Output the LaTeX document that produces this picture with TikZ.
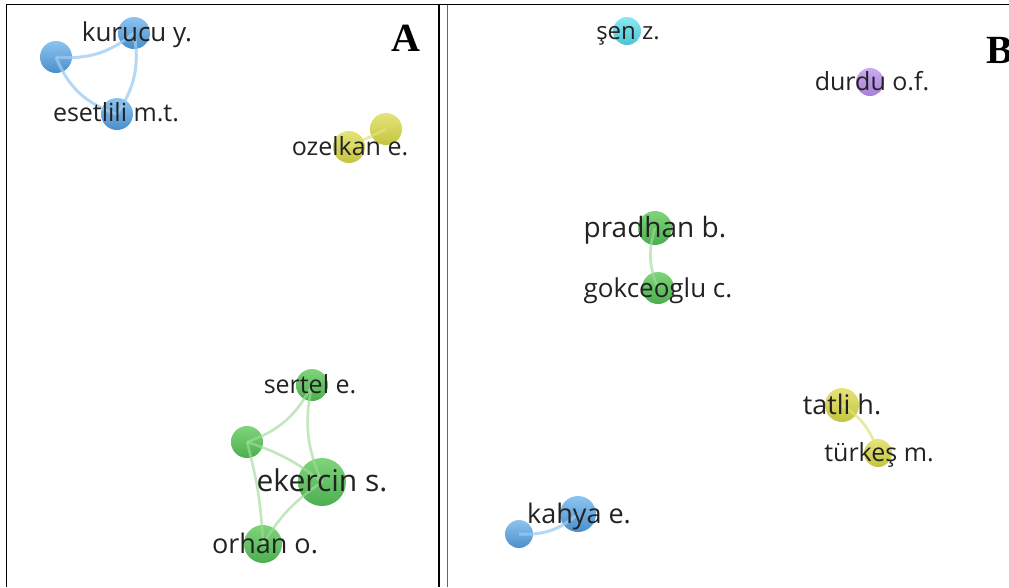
\documentclass[tikz,border=0pt]{standalone}
\usepackage{fontspec}
\setmainfont{Open Sans}
\newfontfamily\serifbold{Liberation Serif}
\begin{document}
\begin{tikzpicture}[x=1pt,y=-1pt,
  dot/.style={circle,inner sep=0,minimum size=#1,draw=none},
  blued/.style={dot=#1,top color=blued1,bottom color=blued2},
  greend/.style={dot=#1,top color=greend1,bottom color=greend2},
  yelld/.style={dot=#1,top color=yelld1,bottom color=yelld2},
  cyand/.style={dot=#1,top color=cyand1,bottom color=cyand2},
  purpd/.style={dot=#1,top color=purpd1,bottom color=purpd2},
  lab/.style={anchor=base,inner sep=0,text=labc,font=\fontsize{#1}{#1}\selectfont},
  bedge/.style={draw=bluee,line width=3pt,opacity=0.75},
  gedge/.style={draw=greene,line width=2.6pt,opacity=0.65},
  yedge/.style={draw=yelle,line width=2.6pt,opacity=0.75},
  frame/.style={draw=black,line width=1.6pt},
  panel/.style={font=\serifbold\bfseries\fontsize{40}{40}\selectfont,inner sep=0,anchor=base}]
\definecolor{blued1}{HTML}{8CC4F0}
\definecolor{blued2}{HTML}{4A8FCB}
\definecolor{greend1}{HTML}{7FD47A}
\definecolor{greend2}{HTML}{4CAF50}
\definecolor{yelld1}{HTML}{E4E47A}
\definecolor{yelld2}{HTML}{C4C440}
\definecolor{cyand1}{HTML}{8AE8F4}
\definecolor{cyand2}{HTML}{4CC4D4}
\definecolor{purpd1}{HTML}{CCAAF0}
\definecolor{purpd2}{HTML}{A880D8}
\definecolor{bluee}{HTML}{9CCBF2}
\definecolor{greene}{HTML}{9EDC98}
\definecolor{yelle}{HTML}{E2E27A}
\definecolor{labc}{HTML}{222222}
\useasboundingbox (0,0) rectangle (1009,587);
% frame
\coordinate (tl) at (6.5,4.5);
\coordinate (tr) at (1009,4.5);
\coordinate (bl) at (6.5,587);
\coordinate (sa) at (439,4.5);
\coordinate (sab) at (439,587);
\coordinate (sb) at (447.5,4.5);
\coordinate (sbb) at (447.5,587);
\draw[frame] (bl) -- (tl) -- (tr);
\draw[frame] (sa) -- (sab);
\draw[draw=black!60,line width=1.6pt] (sb) -- (sbb);
\node[panel] (pa) at (406,51) {A};
\node[panel] (pb) at (1000,63) {B};
% panel A nodes
\node[blued=32] (a1) at (56,57) {};
\node[blued=32] (kur) at (134,33) {};
\node[blued=32] (ese) at (117,114) {};
\node[yelld=32] (oz) at (349,147) {};
\node[yelld=32] (oz2) at (386,129) {};
\node[greend=32] (ser) at (312,385) {};
\node[greend=32] (g1) at (247,442) {};
\node[greend=48] (eke) at (322,482) {};
\node[greend=38] (orh) at (263,544) {};
% panel B nodes
\node[cyand=28] (sen) at (627,31) {};
\node[purpd=28] (dur) at (870,82) {};
\node[greend=34] (pra) at (655,228) {};
\node[greend=32] (gok) at (658,288) {};
\node[yelld=34] (tat) at (842,405) {};
\node[yelld=28] (tur) at (878,453) {};
\node[blued=36] (kah) at (578,514) {};
\node[blued=28] (k2) at (519,534) {};
% edges
\draw[bedge] (a1.center) to[bend right=22] (kur.center);
\draw[bedge] (kur.center) to[bend left=22] (ese.center);
\draw[bedge] (a1.center) to[bend right=25] (ese.center);
\draw[yedge] (oz.center) -- (oz2.center);
\draw[gedge] (g1.center) to[bend right=22] (ser.center);
\draw[gedge] (ser.center) to[bend right=18] (eke.center);
\draw[gedge] (g1.center) to[bend left=10] (eke.center);
\draw[gedge] (g1.center) to[bend left=6] (orh.center);
\draw[gedge] (orh.center) to[bend left=12] (eke.center);
\draw[gedge] (pra.center) to[bend right=20] (gok.center);
\draw[yedge] (tat.center) to[bend left=20] (tur.center);
\draw[bedge] (k2.center) to[bend right=22] (kah.center);
% labels
\node[lab=26] (lkur) at (137,41) {kurucu y.};
\node[lab=25] (lese) at (116,121) {esetlili m.t.};
\node[lab=25] (loz) at (350,155) {ozelkan e.};
\node[lab=25] (lser) at (310,393) {sertel e.};
\node[lab=30] (leke) at (322,491) {ekercin s.};
\node[lab=27] (lorh) at (265,553) {orhan o.};
\node[lab=24] (lsen) at (628,39) {şen z.};
\node[lab=25] (ldur) at (872,90) {durdu o.f.};
\node[lab=28] (lpra) at (655,237) {pradhan b.};
\node[lab=26] (lgok) at (658,297) {gokceoglu c.};
\node[lab=27] (ltat) at (842,414) {tatli h.};
\node[lab=25] (ltur) at (879,461) {türkeş m.};
\node[lab=27] (lkah) at (579,523) {kahya e.};
\end{tikzpicture}
\end{document}
